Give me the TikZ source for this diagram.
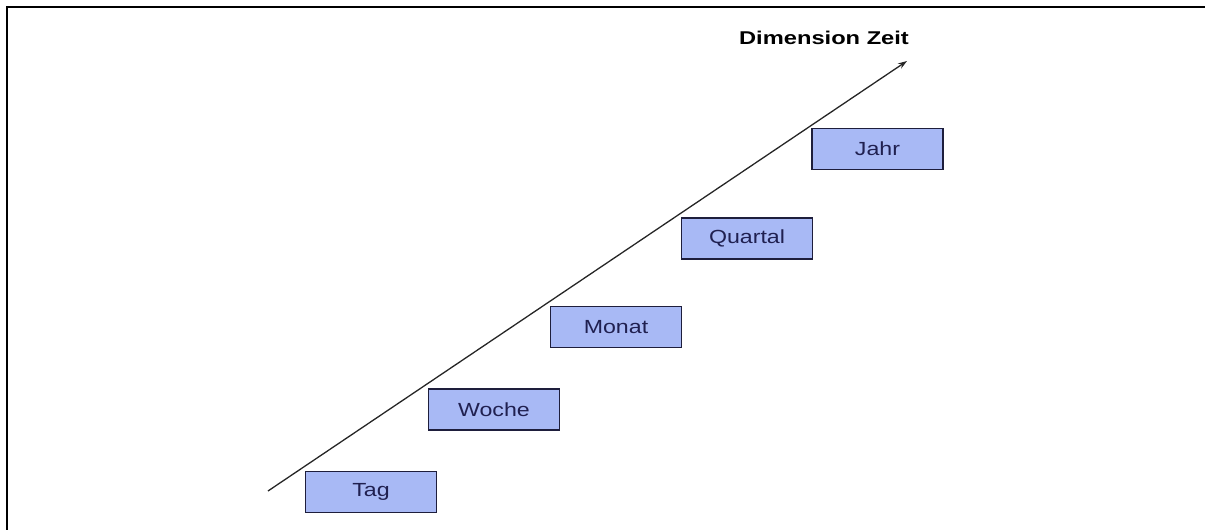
\documentclass[tikz,border=0pt]{standalone}
\usepackage{fontspec}
\usetikzlibrary{arrows.meta}
\newfontfamily\boxfont[FakeStretch=1.22]{Liberation Sans}
\newfontfamily\headfont[FakeStretch=1.28]{Liberation Sans}
\definecolor{levelfill}{RGB}{168,185,245}
\definecolor{levelline}{RGB}{30,30,60}
\definecolor{leveltext}{RGB}{32,32,80}
\tikzset{
  level/.style={draw=levelline, line width=1.4pt, fill=levelfill,
    minimum width=131pt, minimum height=41pt, inner sep=0pt,
    text=leveltext, font=\boxfont\fontsize{19}{19}\selectfont},
  axis/.style={line width=1.3pt, draw=black!85,
    -{Stealth[length=9pt,width=6pt]}},
  frameline/.style={line width=2.2pt, draw=black}
}
\begin{document}
\begin{tikzpicture}[x=1pt,y=-1pt]
  \useasboundingbox (0,0) rectangle (1205,530);
  % open frame: top and left edges
  \draw[frameline] (7,530) -- (7,7) -- (1205,7);
  % time axis
  \coordinate (axstart) at (268,491);
  \coordinate (axend) at (907,61);
  \draw[axis] (axstart) -- (axend);
  \node[font=\headfont\bfseries\fontsize{18.5}{18.5}\selectfont] (title) at (824,38) {Dimension Zeit};
  % levels of the time dimension
  \node[level] (tag) at (371,492) {Tag};
  \node[level] (woche) at (494,409.5) {Woche};
  \node[level] (monat) at (616,327) {Monat};
  \node[level] (quartal) at (747,238.5) {Quartal};
  \node[level] (jahr) at (877.5,149) {Jahr};
\end{tikzpicture}
\end{document}
